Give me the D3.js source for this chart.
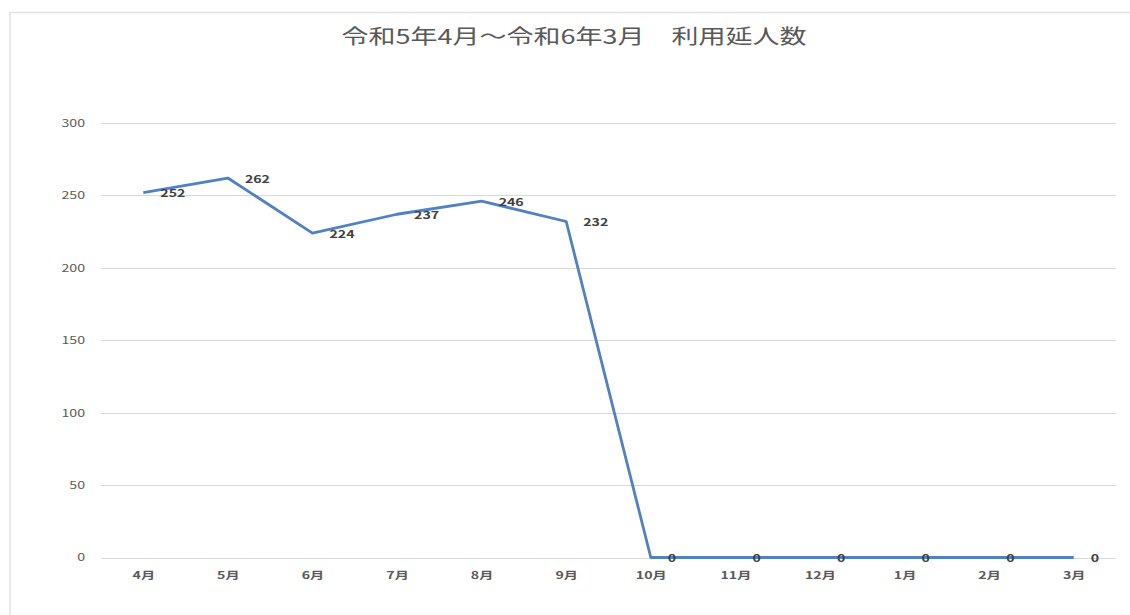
<!DOCTYPE html>
<html lang="ja">
<head>
<meta charset="UTF-8">
<title>利用延人数</title>
<script src="https://d3js.org/d3.v7.min.js"></script>
<style>
  body { margin: 0; background: #fff; }
  svg { display: block; }
</style>
</head>
<body>
<div id="chart"></div>
<script>
// data
const months = ["4月", "5月", "6月", "7月", "8月", "9月", "10月", "11月", "12月", "1月", "2月", "3月"];
const visitors = [252, 262, 224, 237, 246, 232, 0, 0, 0, 0, 0, 0];
const yTicks = [0, 50, 100, 150, 200, 250, 300];
const title = "令和5年4月～令和6年3月　利用延人数";

const width = 1130, height = 615;
const margin = { top: 123, right: 14, bottom: 57, left: 101 };
const font = "'Noto Sans CJK JP', 'Noto Sans', sans-serif";
// the picture is stretched sideways, so text is widened too
const stretch = 1.35;

const svg = d3.select("#chart").append("svg")
  .attr("width", width)
  .attr("height", height);

// chart area frame
svg.append("rect")
  .attr("x", 10).attr("y", 12.5)
  .attr("width", width + 10).attr("height", height + 10)
  .attr("fill", "#fff")
  .attr("stroke", "#e2e2e2")
  .attr("stroke-width", 1.5);

const x = d3.scalePoint()
  .domain(months)
  .range([margin.left, width - margin.right])
  .padding(0.5);

const y = d3.scaleLinear()
  .domain([0, 300])
  .range([height - margin.bottom - 0.5, margin.top]);

// gridlines
svg.append("g")
  .selectAll("line")
  .data(yTicks)
  .join("line")
  .attr("x1", margin.left)
  .attr("x2", width - margin.right)
  .attr("y1", d => Math.round(y(d)) + 0.5)
  .attr("y2", d => Math.round(y(d)) + 0.5)
  .attr("stroke", "#d9d9d9")
  .attr("stroke-width", 1);

// y axis labels
const yAxis = svg.append("g")
  .attr("transform", `translate(${margin.left - 16},0)`)
  .call(d3.axisLeft(y).tickValues(yTicks).tickSize(0).tickPadding(0));
yAxis.select(".domain").remove();
yAxis.selectAll("text")
  .attr("transform", `scale(${stretch},1)`)
  .attr("font-family", font)
  .attr("font-size", 10.5)
  .attr("fill", "#595959");

// x axis labels
const xAxis = svg.append("g")
  .attr("transform", `translate(0,${height - margin.bottom})`)
  .call(d3.axisBottom(x).tickSize(0).tickPadding(14));
xAxis.select(".domain").remove();
xAxis.selectAll("text")
  .attr("transform", `scale(${stretch},1)`)
  .attr("font-family", font)
  .attr("font-size", 10.5)
  .attr("font-weight", "bold")
  .attr("fill", "#595959");

// line
const line = d3.line()
  .x((d, i) => x(months[i]))
  .y(d => y(d));

svg.append("path")
  .datum(visitors)
  .attr("d", line)
  .attr("fill", "none")
  .attr("stroke", "#4f81c4")
  .attr("stroke-width", 2.8)
  .attr("stroke-linejoin", "round");

// data labels
svg.append("g")
  .selectAll("text")
  .data(visitors)
  .join("text")
  .attr("transform", (d, i) => `translate(${x(months[i]) + 17},${y(d) + 1}) scale(${stretch},1)`)
  .attr("dy", "0.35em")
  .attr("font-family", font)
  .attr("font-size", 10.5)
  .attr("font-weight", "bold")
  .attr("fill", "#404040")
  .text(d => d);

// title
svg.append("text")
  .attr("transform", `translate(574,37) scale(${stretch},1)`)
  .attr("dy", "0.35em")
  .attr("text-anchor", "middle")
  .attr("font-family", font)
  .attr("font-size", 20)
  .attr("fill", "#595959")
  .text(title);
</script>
</body>
</html>
